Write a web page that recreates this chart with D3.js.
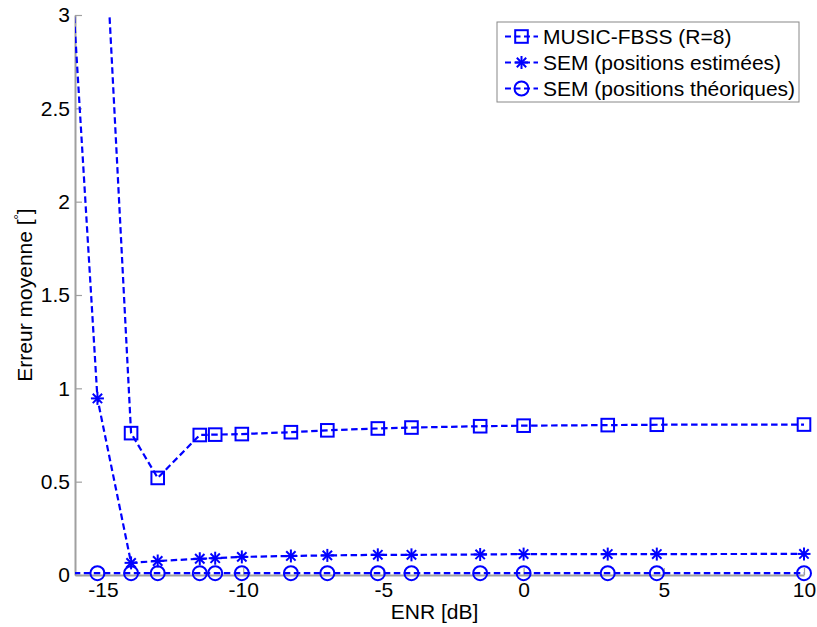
<!DOCTYPE html>
<html>
<head>
<meta charset="utf-8">
<script src="https://cdn.jsdelivr.net/npm/d3@7"></script>
<style>
  body { margin: 0; background: #fff; }
  text { font-family: "Liberation Sans", Arial, sans-serif; }
</style>
</head>
<body>
<svg id="chart" width="817" height="627"></svg>
<script>
// ENR values (dB) - first sample lies left of the visible axis and gets clipped
var enr = [-16.4, -15.2, -14, -13.05, -11.55, -11, -10.05, -8.3, -7, -5.2, -4, -1.55, 0, 3, 4.75, 10];

var musicFbss = [5.0, 4.25, 0.76, 0.52, 0.75, 0.752, 0.755, 0.765, 0.775, 0.785, 0.79, 0.797, 0.8, 0.803, 0.805, 0.806];
var semEstimees = [3.9, 0.946, 0.065, 0.075, 0.087, 0.09, 0.097, 0.102, 0.105, 0.108, 0.108, 0.11, 0.112, 0.112, 0.112, 0.113];
var semTheoriques = [0.01, 0.01, 0.01, 0.01, 0.01, 0.01, 0.01, 0.01, 0.01, 0.01, 0.01, 0.01, 0.01, 0.01, 0.01, 0.01];

var seriesNames = ['MUSIC-FBSS (R=8)', 'SEM (positions estimées)', 'SEM (positions théoriques)'];
var seriesMarkers = ['square', 'star', 'circle'];

var xTicks = [-15, -10, -5, 0, 5, 10];
var yTicks = [0, 0.5, 1, 1.5, 2, 2.5, 3];

var xLabel = 'ENR [dB]';
var yLabel = 'Erreur moyenne [';

//=========
var svg = d3.select('#chart');
var margin = {left: 75, top: 15, right: 13, bottom: 52};
var W = 817, H = 627;
var blue = '#0000ff';
var axisCol = '#a0a0a0';

var x = d3.scaleLinear().domain([-16, 10]).range([margin.left, W - margin.right]);
var y = d3.scaleLinear().domain([0, 3]).range([H - margin.bottom, margin.top]);

svg.append('clipPath').attr('id', 'clipBox')
    .append('rect')
    .attr('x', x(-16)).attr('y', y(3))
    .attr('width', x(10) - x(-16)).attr('height', y(0) - y(3));

// plain hyphen minus like matlab
function plainFmt(d){ return String(d); }

// axes (MATLAB style, ticks pointing inward, no box)
var xAxis = svg.append('g')
    .attr('transform', 'translate(0,' + y(0) + ')')
    .call(d3.axisBottom(x).tickValues(xTicks).tickSizeInner(-7).tickSizeOuter(0).tickPadding(7)
        .tickFormat(plainFmt));
var yAxis = svg.append('g')
    .attr('transform', 'translate(' + x(-16) + ',0)')
    .call(d3.axisLeft(y).tickValues(yTicks).tickSizeInner(-7).tickSizeOuter(0).tickPadding(5)
        .tickFormat(plainFmt));

[xAxis, yAxis].forEach(function(g){
    g.select('.domain').attr('stroke', axisCol).attr('stroke-width', 2);
    g.selectAll('.tick line').attr('stroke', axisCol).attr('stroke-width', 1.2);
    g.selectAll('.tick text').attr('fill', '#000').attr('font-size', 21);
});

// axis labels
svg.append('text')
    .attr('x', (x(-16) + x(10)) / 2 - 5)
    .attr('y', 619)
    .attr('text-anchor', 'middle')
    .attr('font-size', 21)
    .text(xLabel);

var yl = svg.append('text')
    .attr('transform', 'translate(32,' + ((y(0) + y(3)) / 2) + ') rotate(-90)')
    .attr('text-anchor', 'middle')
    .attr('font-size', 21)
    .text(yLabel);
yl.append('tspan').attr('font-size', 13).attr('dy', -9).text('°');
yl.append('tspan').attr('dy', 9).text(']');

// marker drawing
function drawMarker(g, kind, cx, cy){
    if (kind === 'square'){
        g.append('rect')
            .attr('x', cx - 6.3).attr('y', cy - 6.3)
            .attr('width', 12.6).attr('height', 12.6)
            .attr('fill', 'none').attr('stroke', blue).attr('stroke-width', 2);
    } else if (kind === 'circle'){
        g.append('circle')
            .attr('cx', cx).attr('cy', cy).attr('r', 7)
            .attr('fill', 'none').attr('stroke', blue).attr('stroke-width', 2);
    } else {
        var r = 6.5, d = r * 0.72;
        [[-r, 0, r, 0], [0, -r, 0, r], [-d, -d, d, d], [-d, d, d, -d]].forEach(function(s){
            g.append('line')
                .attr('x1', cx + s[0]).attr('y1', cy + s[1])
                .attr('x2', cx + s[2]).attr('y2', cy + s[3])
                .attr('stroke', blue).attr('stroke-width', 2);
        });
    }
}

var allSeries = [musicFbss, semEstimees, semTheoriques];
var line = d3.line().x(function(d){ return x(d.x); }).y(function(d){ return y(d.y); });

allSeries.forEach(function(vals, k){
    var pts = enr.map(function(e, i){ return {x: e, y: vals[i]}; });
    svg.append('path')
        .datum(pts)
        .attr('d', line)
        .attr('fill', 'none')
        .attr('stroke', blue)
        .attr('stroke-width', 2.2)
        .attr('stroke-dasharray', '6.5,3.5')
        .attr('clip-path', 'url(#clipBox)');
    var mg = svg.append('g');
    pts.forEach(function(p){
        if (p.x < -16 || p.x > 10 || p.y > 3) return;
        drawMarker(mg, seriesMarkers[k], x(p.x), y(p.y));
    });
});

// legend
var lg = svg.append('g');
lg.append('rect')
    .attr('x', 497).attr('y', 22).attr('width', 302).attr('height', 80)
    .attr('fill', '#fff').attr('stroke', '#888').attr('stroke-width', 1);
seriesNames.forEach(function(name, k){
    var ry = 36.5 + k * 26;
    lg.append('line')
        .attr('x1', 505).attr('x2', 538).attr('y1', ry).attr('y2', ry)
        .attr('stroke', blue).attr('stroke-width', 2).attr('stroke-dasharray', '6,3.5');
    drawMarker(lg, seriesMarkers[k], 521.5, ry);
    lg.append('text')
        .attr('x', 543).attr('y', ry).attr('dy', '0.36em')
        .attr('font-size', 21)
        .text(name);
});
</script>
</body>
</html>
